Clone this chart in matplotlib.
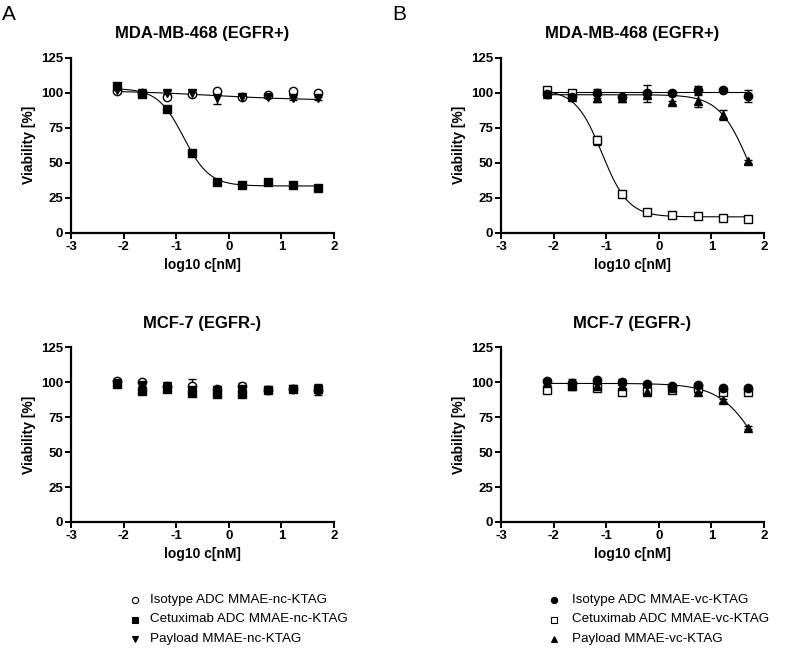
import numpy as np
import matplotlib
matplotlib.use("Agg")
import matplotlib.pyplot as plt
from matplotlib.lines import Line2D

plt.rcParams['font.family'] = ['Liberation Sans', 'DejaVu Sans']
plt.rcParams['axes.unicode_minus'] = False

# log10 of concentration (3-fold dilution series from 50 nM)
logc = [-2.12, -1.65, -1.18, -0.70, -0.22, 0.26, 0.74, 1.22, 1.70]

# --- Panel A, MDA-MB-468 (nc linker) ---
a_top_iso = [101, 100, 97, 99, 101, 97, 98, 101, 100]
a_top_iso_err = [1, 1, 1, 1, 1, 1, 1, 1, 1]
a_top_cet = [105, 99, 88, 57, 36, 34, 36, 34, 32]
a_top_cet_err = [1, 1, 1, 1, 1, 1, 1, 1, 1]
a_top_pay = [102, 100, 100, 100, 96, 97, 97, 96, 96]
a_top_pay_err = [1, 1, 1, 2, 4, 1, 1, 1, 1]

# --- Panel A, MCF-7 (nc linker) ---
a_bot_iso = [101, 100, 97, 97.5, 95, 97, 94.5, 95, 94.5]
a_bot_iso_err = [1, 1, 1, 4.5, 1, 2, 1, 1, 1]
a_bot_cet = [98.5, 93.5, 95, 92, 91.5, 91.5, 94.5, 95, 95]
a_bot_cet_err = [1, 1, 1, 1, 1, 1, 1, 1, 1]
a_bot_pay = [99, 98, 97.5, 94, 94, 95, 94.5, 95, 94.5]
a_bot_pay_err = [1, 1, 1, 1, 1, 1, 1, 1, 4]

# --- Panel B, MDA-MB-468 (vc linker) ---
b_top_iso = [99, 97, 99.5, 97, 99.5, 100, 102, 102, 97.5]
b_top_iso_err = [1, 1, 3, 1, 6, 1, 3, 1, 4]
b_top_cet = [101.5, 99.5, 66, 28, 15, 12.5, 12, 11, 10]
b_top_cet_err = [1, 1, 3.2, 1, 1, 1, 1, 1, 1]
b_top_pay = [99, 97, 96.5, 96, 98, 93, 94, 84, 51]
b_top_pay_err = [1, 1, 3.5, 2.5, 1, 1, 4, 3.6, 1]

# --- Panel B, MCF-7 (vc linker) ---
b_bot_iso = [101, 99.4, 101.3, 100, 98.7, 97.5, 98, 95.8, 95.8]
b_bot_iso_err = [1, 3, 1, 2, 1, 1, 1, 1, 1]
b_bot_cet = [94, 97, 96, 92.7, 93.7, 94.4, 95.6, 93, 93.2]
b_bot_cet_err = [1, 3, 1, 1, 1, 1, 1, 1, 1]
b_bot_pay = [99, 98, 97, 96.8, 92.7, 95.8, 93.2, 87, 67.4]
b_bot_pay_err = [1, 1, 1, 1, 1, 1, 1, 1, 1]

# 4PL fit parameters: (top, bottom, logIC50, slope)
a_top_fits = [(103, 33.5, -0.86, 1.77), (101.5, 94.5, -0.3, 0.5)]
b_top_fits = [(102, 11.5, -1.08, 1.73), (98.5, 0, 1.72, 1.53), (100.5, 100.5, 0, 1)]
b_bot_fits = [(99, 0, 1.99, 1.12)]

iso_label = ["Isotype ADC MMAE-nc-KTAG", "Isotype ADC MMAE-vc-KTAG"]
cet_label = ["Cetuximab ADC MMAE-nc-KTAG", "Cetuximab ADC MMAE-vc-KTAG"]
pay_label = ["Payload MMAE-nc-KTAG", "Payload MMAE-vc-KTAG"]

W, H = 787, 648
fig = plt.figure(figsize=(W / 100, H / 100), dpi=100)


def axes_px(left, right, top, bottom):
    return fig.add_axes([left / W, 1 - bottom / H, (right - left) / W, (bottom - top) / H])


def style(ax, title):
    ax.set_xlim(-3, 2)
    ax.set_ylim(0, 125)
    ax.set_xticks([-3, -2, -1, 0, 1, 2])
    ax.set_yticks([0, 25, 50, 75, 100, 125])
    for s in ['top', 'right']:
        ax.spines[s].set_visible(False)
    for s in ['left', 'bottom']:
        ax.spines[s].set_linewidth(1.6)
    ax.tick_params(width=1.4, length=4, labelsize=9.5, pad=1.5)
    for lab in ax.get_xticklabels() + ax.get_yticklabels():
        lab.set_fontweight('bold')
    ax.set_xlabel("log10 c[nM]", fontsize=10, fontweight='bold', labelpad=4)
    ax.set_ylabel("Viability [%]", fontsize=10, fontweight='bold', labelpad=4)
    ax.set_title(title, fontsize=12, fontweight='bold', pad=14)


def series(ax, y, err, marker, face):
    ax.errorbar(logc, y, yerr=err, fmt='none', ecolor='black', elinewidth=1,
                capsize=3, capthick=1, zorder=2)
    ax.plot(logc, y, linestyle='none', marker=marker, markersize=6,
            markerfacecolor=face, markeredgecolor='black', markeredgewidth=1, zorder=3)


def fits(ax, params):
    xs = np.linspace(logc[0], logc[-1], 200)
    for top, bot, c, s in params:
        ax.plot(xs, bot + (top - bot) / (1 + 10 ** ((xs - c) * s)), color='black', lw=0.8, zorder=1)


ax1 = axes_px(71, 334, 57.5, 233)
ax2 = axes_px(501, 764, 57.5, 233)
ax3 = axes_px(71, 334, 347, 522)
ax4 = axes_px(501, 764, 347, 522)

fits(ax1, a_top_fits)
series(ax1, a_top_iso, a_top_iso_err, 'o', 'white')
series(ax1, a_top_pay, a_top_pay_err, 'v', 'black')
series(ax1, a_top_cet, a_top_cet_err, 's', 'black')
style(ax1, "MDA-MB-468 (EGFR+)")

series(ax3, a_bot_iso, a_bot_iso_err, 'o', 'white')
series(ax3, a_bot_pay, a_bot_pay_err, 'v', 'black')
series(ax3, a_bot_cet, a_bot_cet_err, 's', 'black')
style(ax3, "MCF-7 (EGFR-)")

fits(ax2, b_top_fits)
series(ax2, b_top_cet, b_top_cet_err, 's', 'white')
series(ax2, b_top_pay, b_top_pay_err, '^', 'black')
series(ax2, b_top_iso, b_top_iso_err, 'o', 'black')
style(ax2, "MDA-MB-468 (EGFR+)")

fits(ax4, b_bot_fits)
series(ax4, b_bot_cet, b_bot_cet_err, 's', 'white')
series(ax4, b_bot_pay, b_bot_pay_err, '^', 'black')
series(ax4, b_bot_iso, b_bot_iso_err, 'o', 'black')
style(ax4, "MCF-7 (EGFR-)")

fig.text(2 / W, 1 - 14 / H, "A", fontsize=15, va='center', ha='left')
fig.text(392 / W, 1 - 14 / H, "B", fontsize=15, va='center', ha='left')


def legend_block(x_marker, x_text, markers, faces, labels):
    for i, (m, f, lab) in enumerate(zip(markers, faces, labels)):
        y = 1 - (600 + 19.5 * i) / H
        fig.add_artist(Line2D([x_marker / W], [y], marker=m, markersize=4.5, linestyle='none',
                              markerfacecolor=f, markeredgecolor='black', markeredgewidth=0.8,
                              transform=fig.transFigure))
        fig.text(x_text / W, y, lab, fontsize=9.6, va='center', ha='left')


legend_block(135, 150, ['o', 's', 'v'], ['white', 'black', 'black'],
             [iso_label[0], cet_label[0], pay_label[0]])
legend_block(554, 572, ['o', 's', '^'], ['black', 'white', 'black'],
             [iso_label[1], cet_label[1], pay_label[1]])

fig.savefig("out.png", dpi=100)
